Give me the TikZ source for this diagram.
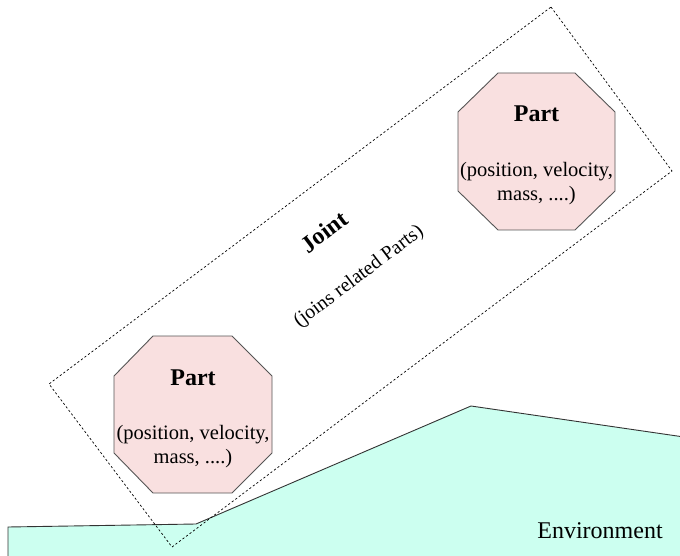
\documentclass[tikz,border=0pt]{standalone}
\usepackage{fontspec}
\setmainfont{Liberation Serif}
\usetikzlibrary{calc}
\definecolor{envfill}{RGB}{204,255,240}
\definecolor{partfill}{RGB}{249,224,224}
\definecolor{partline}{RGB}{85,85,85}
\tikzset{
  envshape/.style={fill=envfill,draw=black!80,line width=0.9pt,line join=miter},
  jointbox/.style={draw=black,line width=0.7pt,dash pattern=on 2.2pt off 2.2pt},
  partshape/.style={fill=partfill,draw=partline,line width=0.9pt},
  parttitle/.style={inner sep=0pt,font=\fontsize{24}{28}\selectfont\bfseries},
  partbody/.style={inner sep=0pt,align=center,font=\fontsize{20.5}{24}\selectfont},
  jointtitle/.style={inner sep=0pt,rotate=37,font=\fontsize{24}{28}\selectfont\bfseries},
  jointbody/.style={inner sep=0pt,rotate=37,font=\fontsize{20}{24}\selectfont},
  envlabel/.style={inner sep=0pt,font=\fontsize{24}{28}\selectfont}
}
\begin{document}
\begin{tikzpicture}[x=1pt,y=-1pt]
\useasboundingbox (0,0) rectangle (680,556);
% environment
\coordinate (e1) at (8,560);
\coordinate (e2) at (8,527);
\coordinate (e3) at (196,524);
\coordinate (e4) at (471,406);
\coordinate (e5) at (684,437);
\coordinate (e6) at (684,560);
\path[envshape] (e1) -- (e2) -- (e3) -- (e4) -- (e5) -- (e6) -- cycle;
\node[envlabel] (env) at (600,531) {Environment};
% joint box
\coordinate (jt) at (551,7);
\coordinate (jr) at (672,171);
\coordinate (jb) at (172,547);
\coordinate (jl) at (49,384);
\draw[jointbox] (jt) -- (jr) -- (jb) -- (jl) -- cycle;
\node[jointtitle] (jtitle) at (324,232) {Joint};
\node[jointbody] (jbody) at (359,277) {(joins related Parts)};
% part 1 (top right)
\path[partshape] (498,73) -- (575,73) -- (615,112) -- (615,191) -- (575,230) -- (498,230) -- (458,191) -- (458,112) -- cycle;
\node[parttitle] (p1t) at (536.5,114) {Part};
\node[partbody] (p1b) at (536.5,184) {(position, velocity,\\ mass, ....)};
% part 2 (bottom left)
\path[partshape] (153,336) -- (232,336) -- (272,376) -- (272,453) -- (232,493) -- (153,493) -- (114,453) -- (114,376) -- cycle;
\node[parttitle] (p2t) at (193,378) {Part};
\node[partbody] (p2b) at (193,447) {(position, velocity,\\ mass, ....)};
\end{tikzpicture}
\end{document}
